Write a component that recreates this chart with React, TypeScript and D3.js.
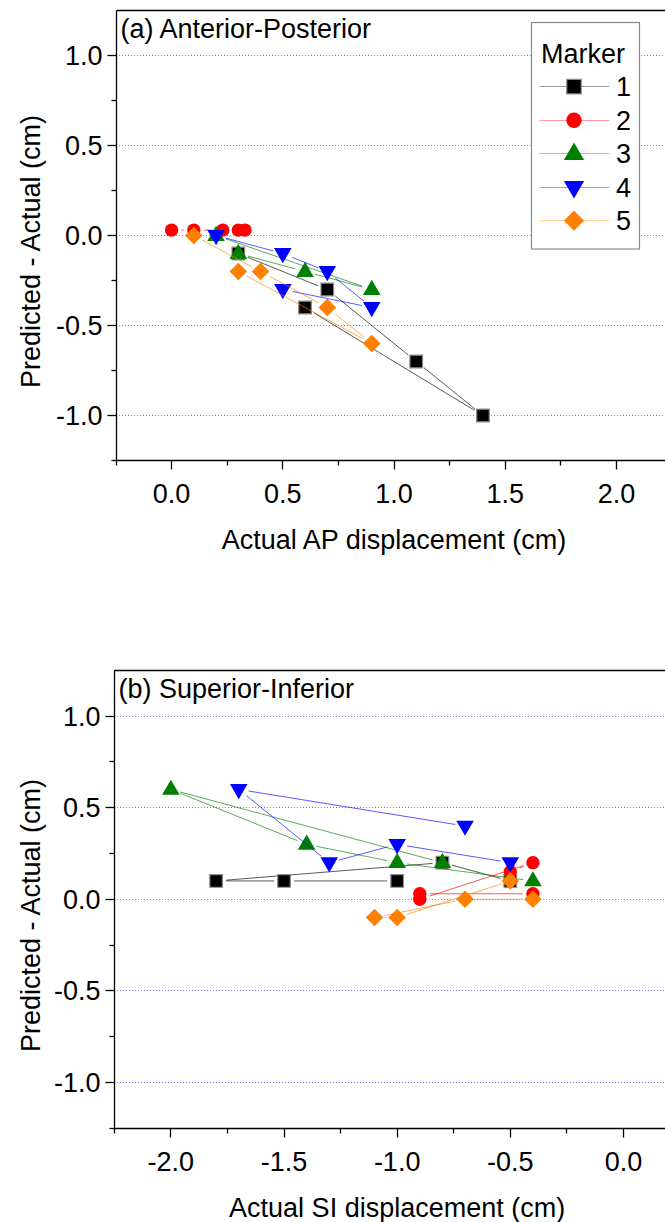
import React from "react";
import * as d3 from "d3";

// ---------- DATA ----------
const markerNames = ["1", "2", "3", "4", "5"];
const markerColors = ["#000000", "#ff0000", "#008000", "#0000ff", "#ff8000"];
const markerShapes = ["square", "circle", "triangleUp", "triangleDown", "diamond"];

// Panel (a) Anterior-Posterior: [actual AP displacement, predicted - actual]
const apMarker1: [number, number][] = [[0.3, -0.1], [0.7, -0.3], [1.1, -0.7], [1.4, -1.0], [0.6, -0.4]];
const apMarker2: [number, number][] = [[0.0, 0.03], [0.1, 0.03], [0.23, 0.03], [0.3, 0.03], [0.33, 0.03]];
const apMarker3: [number, number][] = [[0.2, 0.0], [0.9, -0.3], [0.6, -0.2], [0.3, -0.1]];
const apMarker4: [number, number][] = [[0.2, 0.0], [0.5, -0.1], [0.7, -0.2], [0.9, -0.4], [0.5, -0.3]];
const apMarker5: [number, number][] = [[0.3, -0.2], [0.9, -0.6], [0.7, -0.4], [0.4, -0.2], [0.1, 0.0]];

// Panel (b) Superior-Inferior: [actual SI displacement, predicted - actual]
const siMarker1: [number, number][] = [[-0.5, 0.1], [-0.8, 0.2], [-1.8, 0.1], [-1.5, 0.1], [-1.0, 0.1]];
const siMarker2: [number, number][] = [[-0.5, 0.15], [-0.4, 0.2], [-0.9, 0.0], [-0.9, 0.03], [-0.4, 0.03]];
const siMarker3: [number, number][] = [[-0.8, 0.2], [-2.0, 0.6], [-1.4, 0.3], [-1.0, 0.2], [-0.4, 0.1]];
const siMarker4: [number, number][] = [[-0.7, 0.4], [-1.7, 0.6], [-1.3, 0.2], [-1.0, 0.3], [-0.5, 0.2]];
const siMarker5: [number, number][] = [[-0.5, 0.1], [-1.0, -0.1], [-1.1, -0.1], [-0.7, 0.0], [-0.4, 0.0]];

const yMajorTicks = [-1.0, -0.5, 0.0, 0.5, 1.0];
const yMinorTicks = [-1.25, -0.75, -0.25, 0.25, 0.75];
const apXMajorTicks = [0.0, 0.5, 1.0, 1.5, 2.0];
const apXMinorTicks = [-0.25, 0.25, 0.75, 1.25, 1.75];
const siXMajorTicks = [-2.0, -1.5, -1.0, -0.5, 0.0];
const siXMinorTicks = [-2.25, -1.75, -1.25, -0.75, -0.25];

const FONT = "'Liberation Sans', Arial, Helvetica, sans-serif";
const FS = 27;

const snap = (v: number) => Math.round(v - 0.5) + 0.5;
const fmt = (t: number) => (Math.abs(t) < 1e-9 ? 0 : t).toFixed(1);

function symbolPath(shape: string, k = 1): string {
  if (shape === "square") {
    const s = 6.3 * k;
    return `M${-s},${-s}H${s}V${s}H${-s}Z`;
  }
  if (shape === "circle") {
    const r = 6.7 * k;
    return `M${r},0A${r},${r},0,1,1,${-r},0A${r},${r},0,1,1,${r},0Z`;
  }
  if (shape === "triangleUp") {
    const w = 8.8 * k, t = 9.8 * k, b = 5.4 * k;
    return `M0,${-t}L${w},${b}L${-w},${b}Z`;
  }
  if (shape === "triangleDown") {
    const w = 8.8 * k, t = 9.8 * k, b = 5.4 * k;
    return `M0,${t}L${w},${-b}L${-w},${-b}Z`;
  }
  const d = 8.8 * k;
  return `M0,${-d}L${d},0L0,${d}L${-d},0Z`;
}

function Marker({ shape, color, x, y, k = 1 }: any) {
  return (
    <path
      d={symbolPath(shape, k)}
      transform={`translate(${x},${y})`}
      fill={color}
      stroke={shape === "square" ? "#8a8a8a" : "none"}
      strokeWidth={shape === "square" ? 1.2 : 0}
    />
  );
}

function shortened(p: [number, number], q: [number, number], gap: number) {
  const dx = q[0] - p[0], dy = q[1] - p[1];
  const len = Math.hypot(dx, dy);
  if (len <= 2 * gap) return null;
  const ux = dx / len, uy = dy / len;
  return [p[0] + ux * gap, p[1] + uy * gap, q[0] - ux * gap, q[1] - uy * gap];
}

function Panel({ series, xDomain, xRange, yRange, xMajor, xMinor, label, xTitle, legend }: any) {
  const x = d3.scaleLinear().domain(xDomain).range(xRange);
  const y = d3.scaleLinear().domain([-1.25, 1.25]).range(yRange);
  const left = snap(xRange[0]);
  const right = xRange[1];
  const top = snap(yRange[1]);
  const bottom = snap(yRange[0]);

  return (
    <g>
      {/* grid */}
      {yMajorTicks.map((t) => (
        <line key={"g" + t} x1={Math.round(left + 2)} x2={right} y1={snap(y(t))} y2={snap(y(t))}
          stroke="#7b7bff" strokeWidth={1} strokeDasharray="1,2" />
      ))}
      {/* legend box */}
      {legend && (
        <g>
          <rect x={531.5} y={22.5} width={108} height={226.5} fill="#ffffff" stroke="#8a8a8a" strokeWidth={1.2} />
          <text x={541} y={62.7} fontFamily={FONT} fontSize={FS} fill="#000">Marker</text>
          {markerNames.map((n, i) => {
            const cy = 86.7 + i * 33.5;
            return (
              <g key={"lg" + n}>
                <line x1={539.3} x2={609.3} y1={snap(cy)} y2={snap(cy)} stroke={markerColors[i]} strokeOpacity={0.4} strokeWidth={1.2} />
                <Marker shape={markerShapes[i]} color={markerColors[i]} x={574} y={cy} k={1.15} />
                <text x={616} y={cy + 9.6} fontFamily={FONT} fontSize={FS} fill="#000">{n}</text>
              </g>
            );
          })}
        </g>
      )}
      {/* series */}
      {series.map((pts: [number, number][], i: number) => {
        const px: [number, number][] = pts.map((p) => [x(p[0]), y(p[1])]);
        const segs = d3.pairs(px).map((pq) => shortened(pq[0], pq[1], 10)).filter((s) => s);
        return (
          <g key={"s" + i}>
            {segs.map((s: any, j: number) => (
              <line key={j} x1={s[0]} y1={s[1]} x2={s[2]} y2={s[3]}
                stroke={markerColors[i]} strokeOpacity={0.65} strokeWidth={1} />
            ))}
            {px.map((p, j) => (
              <Marker key={"m" + j} shape={markerShapes[i]} color={markerColors[i]} x={p[0]} y={p[1]} />
            ))}
          </g>
        );
      })}
      {/* axes */}
      <line x1={left} x2={left} y1={top} y2={bottom} stroke="#000" strokeWidth={1.3} />
      <line x1={left} x2={right} y1={top} y2={top} stroke="#000" strokeWidth={1.3} />
      <line x1={left} x2={right} y1={bottom} y2={bottom} stroke="#000" strokeWidth={1.3} />
      {yMajorTicks.map((t) => (
        <g key={"ym" + t}>
          <line x1={left - 9} x2={left} y1={snap(y(t))} y2={snap(y(t))} stroke="#000" strokeWidth={1.3} />
          <text x={left - 14} y={y(t) + 9.6} textAnchor="end" fontFamily={FONT} fontSize={FS} fill="#000">{fmt(t)}</text>
        </g>
      ))}
      {yMinorTicks.map((t) => (
        <line key={"yn" + t} x1={left - 5} x2={left} y1={snap(y(t))} y2={snap(y(t))} stroke="#000" strokeWidth={1.3} />
      ))}
      {xMajor.map((t: number) => (
        <g key={"xm" + t}>
          <line x1={snap(x(t))} x2={snap(x(t))} y1={bottom} y2={bottom + 9} stroke="#000" strokeWidth={1.3} />
          <text x={x(t)} y={bottom + 42} textAnchor="middle" fontFamily={FONT} fontSize={FS} fill="#000">{fmt(t)}</text>
        </g>
      ))}
      {xMinor.map((t: number) => (
        <line key={"xn" + t} x1={snap(x(t))} x2={snap(x(t))} y1={bottom} y2={bottom + 5} stroke="#000" strokeWidth={1.3} />
      ))}
      <text x={left + 4} y={top + 27.5} fontFamily={FONT} fontSize={FS} fill="#000">{label}</text>
      <text x={(xRange[0] + xRange[1]) / 2} y={bottom + 88} textAnchor="middle" fontFamily={FONT} fontSize={FS} fill="#000">{xTitle}</text>
      <text transform={`translate(40,${(top + bottom) / 2 + 16}) rotate(-90)`} textAnchor="middle"
        fontFamily={FONT} fontSize={FS} fill="#000">Predicted - Actual (cm)</text>
    </g>
  );
}

export default function App() {
  return (
    <svg width={665} height={1222} style={{ position: "absolute", left: 0, top: 0, background: "#fff" }}>
      <rect x={0} y={0} width={665} height={1222} fill="#ffffff" />
      <Panel
        series={[apMarker1, apMarker2, apMarker3, apMarker4, apMarker5]}
        xDomain={[-0.25, 2.25]}
        xRange={[116, 672]}
        yRange={[460.5, 10.5]}
        xMajor={apXMajorTicks}
        xMinor={apXMinorTicks}
        label="(a) Anterior-Posterior"
        xTitle="Actual AP displacement (cm)"
        legend={true}
      />
      <Panel
        series={[siMarker1, siMarker2, siMarker3, siMarker4, siMarker5]}
        xDomain={[-2.25, 0.25]}
        xRange={[114.3, 680]}
        yRange={[1128, 670.5]}
        xMajor={siXMajorTicks}
        xMinor={siXMinorTicks}
        label="(b) Superior-Inferior"
        xTitle="Actual SI displacement (cm)"
        legend={false}
      />
    </svg>
  );
}
